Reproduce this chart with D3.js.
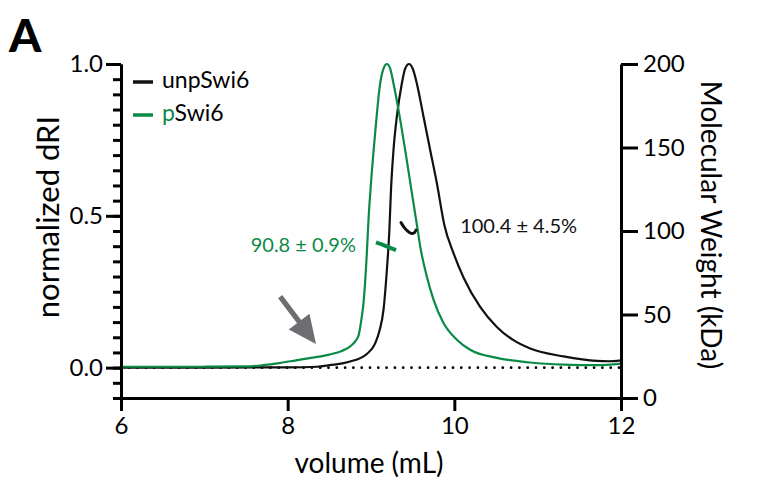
<!DOCTYPE html>
<html><head><meta charset="utf-8">
<script src="https://cdn.jsdelivr.net/npm/d3@7"></script>
<style>
html,body{margin:0;padding:0;background:#fff;}
svg{display:block;}
text{font-family:Lato, "Open Sans", sans-serif;}
</style></head>
<body>
<svg id="chart" width="777" height="481"></svg>
<script>
// ---------- data ----------
const seriesNames = ["unpSwi6", "pSwi6"];
const seriesColors = ["#111111", "#0b8a47"];

const unpVolume = [6.0,7.0,8.0,8.35,8.5,8.75,8.95,9.05,9.1,9.15,9.19,9.22,9.24,9.27,9.31,9.37,9.41,9.456,9.5,9.55,9.63,9.71,9.79,9.88,9.99,10.11,10.31,10.51,10.70,10.91,11.31,11.71,11.85,12.0];
const unpDRI    = [0.0,0.0,0.001,0.003,0.008,0.02,0.045,0.08,0.12,0.19,0.32,0.45,0.586,0.717,0.827,0.936,0.985,1.0,0.985,0.936,0.827,0.717,0.608,0.47,0.377,0.297,0.20,0.134,0.092,0.063,0.037,0.022,0.021,0.024];

const pVolume = [6.0,6.5,7.0,7.5,7.7,7.9,8.1,8.3,8.5,8.65,8.75,8.82,8.85,8.88,8.91,8.95,8.97,9.0,9.05,9.11,9.15,9.19,9.23,9.27,9.33,9.41,9.49,9.56,9.59,9.67,9.75,9.87,10.03,10.19,10.51,10.91,11.31,11.71,12.0];
const pDRI    = [0.003,0.003,0.003,0.004,0.008,0.015,0.024,0.033,0.043,0.055,0.07,0.09,0.105,0.15,0.213,0.377,0.487,0.608,0.773,0.936,0.985,1.0,0.985,0.936,0.849,0.717,0.576,0.454,0.40,0.30,0.224,0.147,0.092,0.059,0.032,0.017,0.01,0.008,0.013];

// molecular weight (kDa) traces across the peaks
const unpMWVolume = [9.36,9.40,9.45,9.49,9.52,9.54];
const unpMW       = [105,102,99.5,98.5,99,100.5];
const pMWVolume   = [9.06,9.18,9.30];
const pMW         = [93.2,91.0,88.6];

const mwLabels = ["100.4 ± 4.5%", "90.8 ± 0.9%"];

const xTicks = [6,8,10,12];
const yLeftMajor = [0.0,0.5,1.0];
const yRightTicks = [0,50,100,150,200];

// ---------- layout ----------
const svg = d3.select("#chart");
const x  = d3.scaleLinear().domain([6,12]).range([121,621]);
const yL = d3.scaleLinear().domain([-0.1,1.0]).range([398,64]);
const yR = d3.scaleLinear().domain([0,200]).range([398,64]);

const axisW = 3;

// baseline dotted line
svg.append("line")
  .attr("x1", x(6)).attr("x2", x(12))
  .attr("y1", yL(0)).attr("y2", yL(0))
  .attr("stroke", "#000").attr("stroke-width", 2.8)
  .attr("stroke-linecap", "round")
  .attr("stroke-dasharray", "0 8.3");

// curves
const line = d3.line().x(d=>x(d[0])).y(d=>yL(d[1])).curve(d3.curveMonotoneX);
const unpData = unpVolume.map((v,i)=>[v,unpDRI[i]]);
const pData   = pVolume.map((v,i)=>[v,pDRI[i]]);

svg.append("path").datum(unpData).attr("d", line)
  .attr("fill","none").attr("stroke", seriesColors[0]).attr("stroke-width", 2.2);
svg.append("path").datum(pData).attr("d", line)
  .attr("fill","none").attr("stroke", seriesColors[1]).attr("stroke-width", 2.2);

// MW traces
const mwLine = d3.line().x(d=>x(d[0])).y(d=>yR(d[1])).curve(d3.curveMonotoneX);
svg.append("path").datum(unpMWVolume.map((v,i)=>[v,unpMW[i]])).attr("d", mwLine)
  .attr("fill","none").attr("stroke", seriesColors[0]).attr("stroke-width", 3).attr("stroke-linecap","round");
svg.append("path").datum(pMWVolume.map((v,i)=>[v,pMW[i]])).attr("d", mwLine)
  .attr("fill","none").attr("stroke", seriesColors[1]).attr("stroke-width", 4);

// MW labels
svg.append("text").attr("x", x(10.07)).attr("y", yR(103.5))
  .attr("dominant-baseline","central")
  .attr("font-size", 20).attr("fill", seriesColors[0]).text(mwLabels[0]);
svg.append("text").attr("x", x(8.82)).attr("y", yR(92.5))
  .attr("dominant-baseline","central").attr("text-anchor","end")
  .attr("font-size", 20).attr("fill", seriesColors[1]).text(mwLabels[1]);

// arrow (annotation) in data units
const arrowFrom = [7.91, 0.234], arrowTo = [8.34, 0.078];
{
  const x0 = x(arrowFrom[0]), y0 = yL(arrowFrom[1]);
  const x1 = x(arrowTo[0]),   y1 = yL(arrowTo[1]);
  const dx = x1-x0, dy = y1-y0, L = Math.hypot(dx,dy);
  const ux = dx/L, uy = dy/L, px = -uy, py = ux;
  const headL = 28, headW = 13, shaftW = 2.6;
  const bx = x1 - ux*headL, by = y1 - uy*headL;
  const pts = [
    [x0+px*shaftW, y0+py*shaftW],
    [bx+px*shaftW, by+py*shaftW],
    [bx+px*headW,  by+py*headW],
    [x1, y1],
    [bx-px*headW,  by-py*headW],
    [bx-px*shaftW, by-py*shaftW],
    [x0-px*shaftW, y0-py*shaftW]
  ];
  svg.append("polygon").attr("points", pts.map(p=>p.join(",")).join(" "))
    .attr("fill", "#6d6e71");
}

// ---------- axes ----------
function styleAxis(g){
  g.selectAll("path.domain").attr("stroke","#000").attr("stroke-width",axisW);
  g.selectAll(".tick line").attr("stroke","#000").attr("stroke-width",axisW);
  g.selectAll(".tick text").attr("fill","#000").attr("font-family","Lato, sans-serif");
}

// left minor ticks
const minorVals = d3.range(-0.1, 1.0001, 0.05).map(v=>+v.toFixed(2));
const gMinor = svg.append("g").attr("transform",`translate(${x(6)},0)`)
  .call(d3.axisLeft(yL).tickValues(minorVals).tickSize(8).tickSizeOuter(0).tickFormat(""));
styleAxis(gMinor);

const gLeft = svg.append("g").attr("transform",`translate(${x(6)},0)`)
  .call(d3.axisLeft(yL).tickValues(yLeftMajor).tickSize(15).tickSizeOuter(0).tickPadding(3).tickFormat(d3.format(".1f")));
styleAxis(gLeft);
gLeft.selectAll(".tick text").attr("font-size",24);

const gRight = svg.append("g").attr("transform",`translate(${x(12)},0)`)
  .call(d3.axisRight(yR).tickValues(yRightTicks).tickSize(17).tickSizeOuter(0).tickPadding(5));
styleAxis(gRight);
gRight.selectAll(".tick text").attr("font-size",24);

const gBottom = svg.append("g").attr("transform",`translate(0,${yL(-0.1)})`)
  .call(d3.axisBottom(x).tickValues(xTicks).tickSize(13).tickSizeOuter(0).tickPadding(6).tickFormat(d3.format("d")));
styleAxis(gBottom);
gBottom.selectAll(".tick text").attr("font-size",24);
gBottom.select("path.domain").attr("stroke-linecap","square");

// axis titles
svg.append("text").attr("x", (x(6)+x(12))/2 - 2).attr("y", 462)
  .attr("text-anchor","middle").attr("dominant-baseline","central")
  .attr("font-size",28).text("volume (mL)");
svg.append("text").attr("transform",`translate(47,217) rotate(-90)`)
  .attr("text-anchor","middle").attr("dominant-baseline","central")
  .attr("font-size",31).text("normalized dRI");
svg.append("text").attr("transform",`translate(712,${(yR(0)+yR(200))/2 - 6}) rotate(90)`)
  .attr("text-anchor","middle").attr("dominant-baseline","central")
  .attr("font-size",28).text("Molecular Weight (kDa)");

// legend
const legend = svg.append("g");
seriesNames.forEach((name,i)=>{
  const cy = 79 + i*33;
  legend.append("line").attr("x1",133).attr("x2",153).attr("y1",cy+3).attr("y2",cy+3)
    .attr("stroke",seriesColors[i]).attr("stroke-width",3.5);
  const t = legend.append("text").attr("x",162).attr("y",cy).attr("dominant-baseline","central")
    .attr("font-size",23).attr("fill","#000");
  if (i===1){
    t.append("tspan").attr("fill",seriesColors[1]).text(name.slice(0,1));
    t.append("tspan").text(name.slice(1));
  } else {
    t.text(name);
  }
});

// panel letter
svg.append("text").attr("x",9).attr("y",52).attr("font-size",46).attr("font-weight",900)
  .attr("font-family","'Liberation Sans', Arial, sans-serif").text("A");
</script>
</body></html>
